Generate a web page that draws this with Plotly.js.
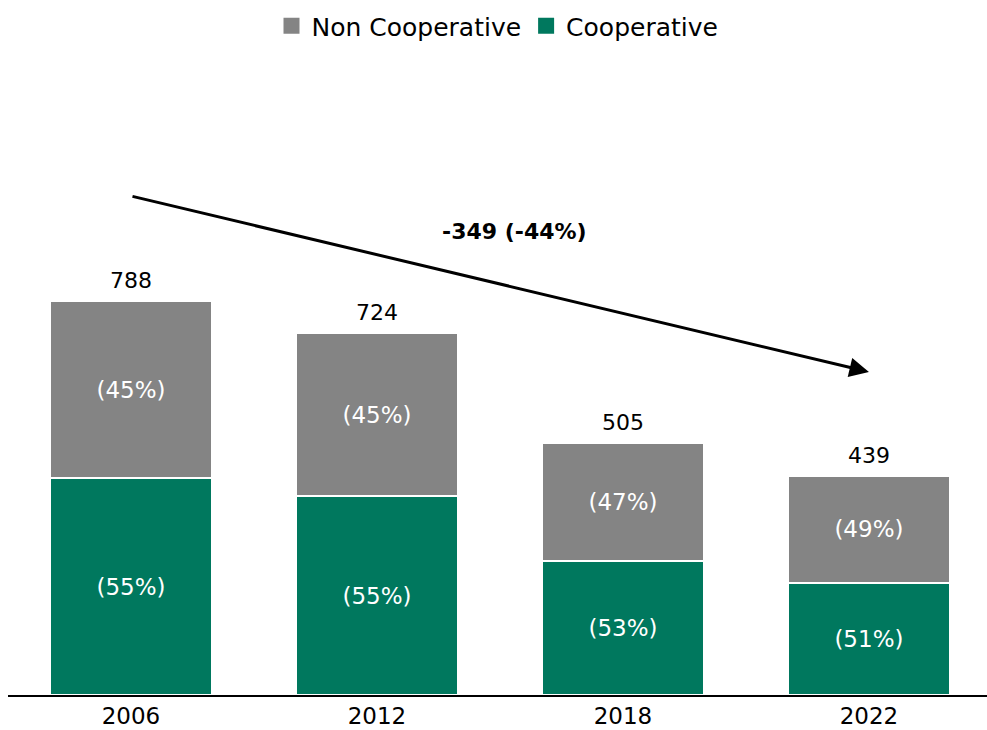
<!DOCTYPE html>
<html>
<head>
<meta charset="utf-8">
<script src="https://cdn.plot.ly/plotly-3.0.1.min.js"></script>
<style>html,body{margin:0;padding:0;background:#fff}#chart{width:987px;height:730px}</style>
</head>
<body>
<div id="chart"></div>
<script>
const years = ['2006', '2012', '2018', '2022'];
const cooperative = [434, 398, 268, 224];
const nonCooperative = [354, 326, 237, 215];
const totals = [788, 724, 505, 439];
const coopPctLabels = ['(55%)', '(55%)', '(53%)', '(51%)'];
const nonCoopPctLabels = ['(45%)', '(45%)', '(47%)', '(49%)'];
const changeLabel = '-349 (-44%)';

const FONT = '"DejaVu Sans", sans-serif';
const GREEN = '#00785E';
const GRAY = '#848484';

const traces = [
  {
    type: 'bar', name: 'Cooperative', x: years, y: cooperative,
    text: coopPctLabels, textposition: 'inside', insidetextanchor: 'middle',
    textfont: {color: '#fff', size: 23, family: FONT},
    marker: {color: GREEN, line: {color: '#fff', width: 2}},
    showlegend: false
  },
  {
    type: 'bar', name: 'Non Cooperative', x: years, y: nonCooperative,
    text: nonCoopPctLabels, textposition: 'inside', insidetextanchor: 'middle',
    textfont: {color: '#fff', size: 23, family: FONT},
    marker: {color: GRAY, line: {color: '#fff', width: 2}},
    showlegend: false
  },
  {
    type: 'scatter', mode: 'markers', name: 'Non Cooperative', x: [null], y: [null],
    marker: {symbol: 'square', size: 22, color: GRAY}, showlegend: true
  },
  {
    type: 'scatter', mode: 'markers', name: 'Cooperative', x: [null], y: [null],
    marker: {symbol: 'square', size: 22, color: GREEN}, showlegend: true
  }
];

const annotations = years.map((yr, i) => ({
  x: i, y: totals[i], xref: 'x', yref: 'y', text: String(totals[i]),
  showarrow: false, yanchor: 'bottom', yshift: 6,
  font: {size: 22, color: '#000', family: FONT}
}));

// trend arrow
annotations.push({
  x: 3, y: 646, xref: 'x', yref: 'y',
  ax: 0, ay: 998, axref: 'x', ayref: 'y',
  text: '', showarrow: true, arrowhead: 2, arrowsize: 1.3, arrowwidth: 3, arrowcolor: '#000'
});
annotations.push({
  x: 1.56, y: 928, xref: 'x', yref: 'y', text: '<b>' + changeLabel + '</b>',
  showarrow: false, font: {size: 22, color: '#000', family: FONT}
});

const layout = {
  width: 987, height: 730,
  margin: {l: 8, r: 0, t: 195, b: 35},
  paper_bgcolor: '#fff', plot_bgcolor: '#fff',
  barmode: 'stack', bargap: 0.34,
  font: {family: FONT, color: '#000'},
  showlegend: true,
  legend: {
    orientation: 'h', x: 0.5, xanchor: 'center', y: 1.338, yanchor: 'middle',
    traceorder: 'normal', font: {size: 25, family: FONT, color: '#000'},
    itemwidth: 30
  },
  xaxis: {
    type: 'category', range: [-0.5, 3.48], showline: true, linecolor: '#000', linewidth: 1.5,
    ticks: '', showgrid: false, zeroline: false,
    tickfont: {size: 23, family: FONT, color: '#000'}
  },
  yaxis: {
    range: [0, 1000], visible: false, showgrid: false, zeroline: false
  },
  annotations: annotations
};

Plotly.newPlot('chart', traces, layout, {displayModeBar: false, staticPlot: true});
</script>
</body>
</html>
